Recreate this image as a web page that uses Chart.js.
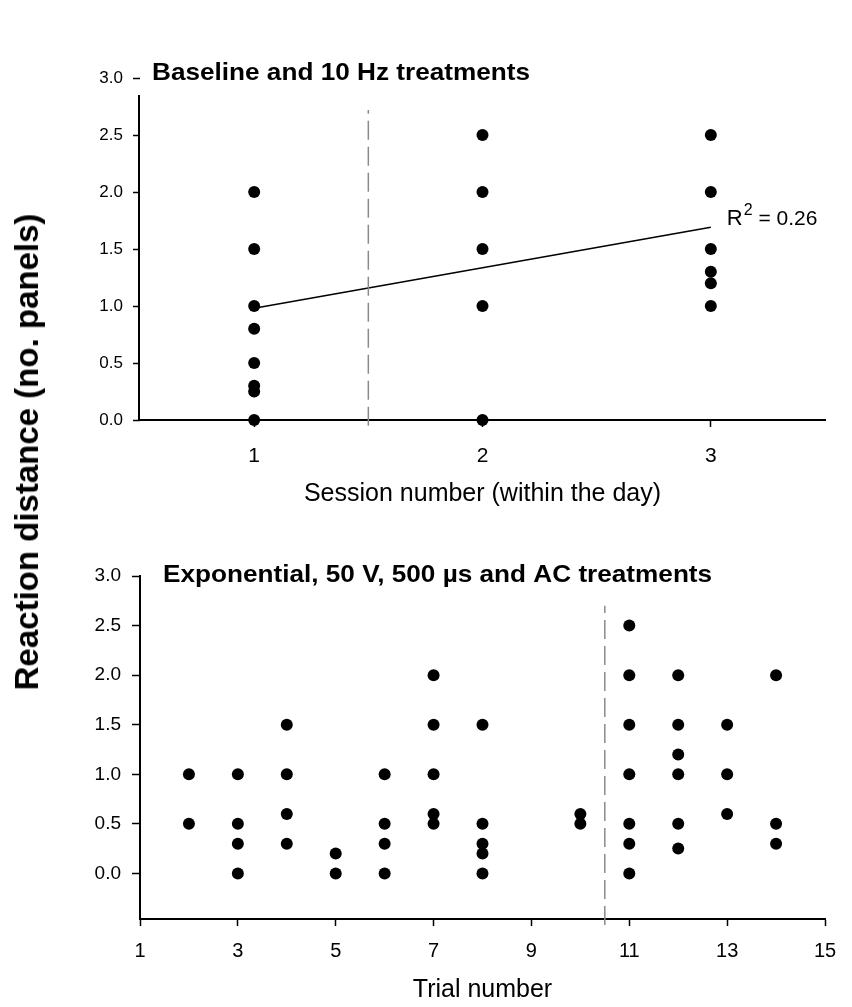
<!DOCTYPE html>
<html>
<head>
<meta charset="utf-8">
<script src="https://cdn.jsdelivr.net/npm/chart.js@4.4.1/dist/chart.umd.min.js"></script>
<style>
  body { margin: 0; background: #fff; }
  #wrap { position: relative; width: 852px; height: 1007px; }
  canvas { position: absolute; left: 0; }
  #topChart { top: 0; }
  #bottomChart { top: 520px; }
  #yTitle {
    position: absolute; left: 27px; top: 452px;
    transform: translate(-50%, -50%) rotate(-90deg);
    font: bold 33px 'Liberation Sans', Arial, sans-serif;
    white-space: nowrap; color: #000;
  }
</style>
</head>
<body>
<div id="wrap">
  <canvas id="topChart" width="852" height="520"></canvas>
  <canvas id="bottomChart" width="852" height="487"></canvas>
  <div id="yTitle">Reaction distance (no. panels)</div>
</div>
<script>
const FONT = "'Liberation Sans', Arial, sans-serif";

// Top panel - baseline and 10 Hz treatments
const sessionNumbers = [1, 2, 3];
const session1 = [2.0, 1.5, 1.0, 0.8, 0.5, 0.3, 0.25, 0.0];
const session2 = [2.5, 2.0, 1.5, 1.0, 0.0];
const session3 = [2.5, 2.0, 1.5, 1.3, 1.2, 1.0];
const fitLine = [0.98, 1.69];          // regression value at session 1 and session 3
const sessionBreak = 1.5;
const sessionBreakSpan = [-0.05, 2.72];
const valueTicks = [0, 0.5, 1, 1.5, 2, 2.5, 3];

// Bottom panel - exponential, 50 V, 500 us and AC treatments
const trialNumbers = [2, 3, 4, 5, 6, 7, 8, 10, 11, 12, 13, 14];
const trialValues = [
  [1.0, 0.5],
  [1.0, 0.5, 0.3, 0.0],
  [1.5, 1.0, 0.6, 0.3],
  [0.2, 0.0],
  [1.0, 0.5, 0.3, 0.0],
  [2.0, 1.5, 1.0, 0.6, 0.5],
  [1.5, 0.5, 0.3, 0.2, 0.0],
  [0.6, 0.5],
  [2.5, 2.0, 1.5, 1.0, 0.5, 0.3, 0.0],
  [2.0, 1.5, 1.2, 1.0, 0.5, 0.25],
  [1.5, 1.0, 0.6],
  [2.0, 0.5, 0.3]
];
const trialTicks = [1, 3, 5, 7, 9, 11, 13, 15];
const trialBreak = 10.5;
const trialBreakSpan = [-0.52, 2.7];

const sessionPoints = [session1, session2, session3].flatMap((vals, i) =>
  vals.map(v => ({ x: sessionNumbers[i], y: v })));
const trialPoints = trialValues.flatMap((vals, i) =>
  vals.map(v => ({ x: trialNumbers[i], y: v })));

// titles, R2 label and the short top y axis line
const panelText = {
  id: 'panelText',
  afterDraw(chart, args, opts) {
    const ctx = chart.ctx;
    const xs = chart.scales.x, ys = chart.scales.y;
    ctx.save();
    ctx.fillStyle = '#000';
    ctx.font = 'bold 24px ' + FONT;
    ctx.textBaseline = 'alphabetic';
    ctx.translate(opts.titleX, opts.titleY);
    ctx.scale(1.09, 1);
    ctx.fillText(opts.title, 0, 0);
    ctx.restore();

    if (opts.axisTop !== undefined) {
      ctx.save();
      ctx.strokeStyle = '#000';
      ctx.lineWidth = 2;
      ctx.beginPath();
      ctx.moveTo(chart.chartArea.left - 1, ys.getPixelForValue(opts.axisTop));
      ctx.lineTo(chart.chartArea.left - 1, chart.chartArea.bottom);
      ctx.stroke();
      ctx.restore();
    }

    if (opts.r2) {
      const px = xs.getPixelForValue(opts.r2.x) + 16;
      const py = ys.getPixelForValue(opts.r2.y);
      ctx.save();
      ctx.fillStyle = '#000';
      ctx.textBaseline = 'alphabetic';
      ctx.font = '22px ' + FONT;
      ctx.fillText('R', px, py + 8);
      let w = ctx.measureText('R').width;
      ctx.font = '16px ' + FONT;
      ctx.fillText('2', px + w + 1, py - 2);
      w += ctx.measureText('2').width + 1;
      ctx.font = '21px ' + FONT;
      ctx.fillText(' = ' + opts.r2.text, px + w, py + 8);
      ctx.restore();
    }
  }
};

function gridStyle(len) {
  return { drawOnChartArea: false, drawTicks: true, tickLength: len, tickColor: '#000', tickWidth: 1.5 };
}

new Chart(document.getElementById('topChart'), {
  type: 'scatter',
  data: {
    datasets: [
      {
        type: 'line',
        data: sessionBreakSpan.map(v => ({ x: sessionBreak, y: v })),
        borderColor: '#8a8a8a', borderWidth: 1.5, borderDash: [19, 7],
        pointRadius: 0, clip: false
      },
      {
        type: 'line',
        data: [{ x: sessionNumbers[0], y: fitLine[0] }, { x: sessionNumbers[2], y: fitLine[1] }],
        borderColor: '#000', borderWidth: 1.5, pointRadius: 0
      },
      {
        data: sessionPoints,
        backgroundColor: '#000', pointRadius: 6, pointBorderWidth: 0, clip: false
      }
    ]
  },
  options: {
    responsive: false,
    animation: false,
    layout: { padding: { top: 78, right: 27, left: 0, bottom: 0 } },
    plugins: {
      legend: { display: false },
      tooltip: { enabled: false },
      panelText: {
        title: 'Baseline and 10 Hz treatments', titleX: 152, titleY: 80,
        axisTop: 2.85,
        r2: { x: 3, y: 1.78, text: '0.26' }
      }
    },
    scales: {
      x: {
        type: 'linear', min: 0.5, max: 3.5,
        afterBuildTicks: s => { s.ticks = sessionNumbers.map(v => ({ value: v })); },
        afterFit: s => { s.height = 100; },
        border: { color: '#000', width: 2 },
        grid: gridStyle(7),
        ticks: { color: '#000', font: { family: FONT, size: 21 }, padding: 17, callback: v => String(v) },
        title: {
          display: true, text: 'Session number (within the day)', color: '#000',
          font: { family: FONT, size: 25 }, padding: { top: 0, bottom: 11 }
        }
      },
      y: {
        min: 0, max: 3,
        afterBuildTicks: s => { s.ticks = valueTicks.map(v => ({ value: v })); },
        afterFit: s => { s.width = 140; },
        border: { display: false },
        grid: gridStyle(7),
        ticks: { color: '#000', font: { family: FONT, size: 17 }, padding: 10, callback: v => v.toFixed(1) }
      }
    }
  },
  plugins: [panelText]
});

new Chart(document.getElementById('bottomChart'), {
  type: 'scatter',
  data: {
    datasets: [
      {
        type: 'line',
        data: trialBreakSpan.map(v => ({ x: trialBreak, y: v })),
        borderColor: '#8a8a8a', borderWidth: 1.5, borderDash: [19, 7],
        pointRadius: 0, clip: false
      },
      {
        data: trialPoints,
        backgroundColor: '#000', pointRadius: 6, pointBorderWidth: 0, clip: false
      }
    ]
  },
  options: {
    responsive: false,
    animation: false,
    layout: { padding: { top: 56, right: 27, left: 0, bottom: 0 } },
    plugins: {
      legend: { display: false },
      tooltip: { enabled: false },
      panelText: {
        title: 'Exponential, 50 V, 500 \u00b5s and AC treatments', titleX: 163, titleY: 62
      }
    },
    scales: {
      x: {
        type: 'linear', min: 1, max: 15,
        afterBuildTicks: s => { s.ticks = trialTicks.map(v => ({ value: v })); },
        afterFit: s => { s.height = 88; },
        border: { color: '#000', width: 2 },
        grid: gridStyle(7),
        ticks: { color: '#000', font: { family: FONT, size: 20 }, padding: 13, callback: v => String(v) },
        title: {
          display: true, text: 'Trial number', color: '#000',
          font: { family: FONT, size: 25 }, padding: { top: 0, bottom: 2 }
        }
      },
      y: {
        min: -0.46, max: 3,
        afterBuildTicks: s => { s.ticks = valueTicks.map(v => ({ value: v })); },
        afterFit: s => { s.width = 140; },
        border: { color: '#000', width: 2 },
        grid: gridStyle(8),
        ticks: { color: '#000', font: { family: FONT, size: 19 }, padding: 11, callback: v => v.toFixed(1) }
      }
    }
  },
  plugins: [panelText]
});
</script>
</body>
</html>
